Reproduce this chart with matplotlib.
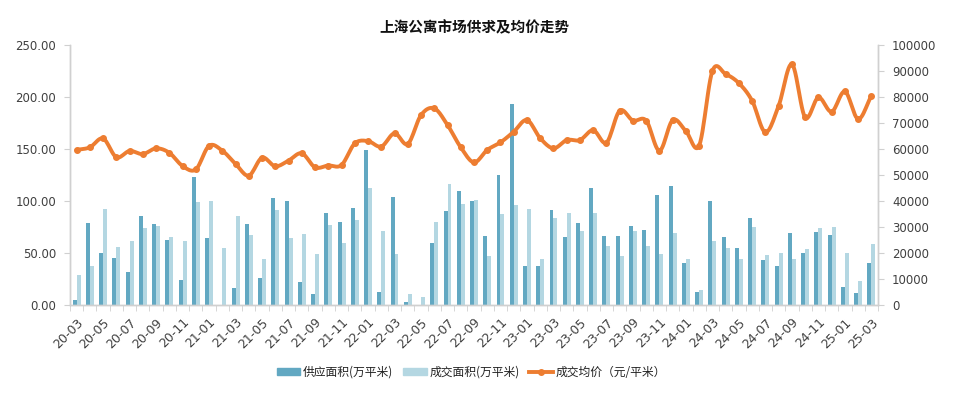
import matplotlib
matplotlib.use("Agg")
import matplotlib.pyplot as plt
import numpy as np
from matplotlib.patches import Patch
from matplotlib.lines import Line2D

plt.rcParams['font.family'] = ['Noto Sans CJK SC', 'DejaVu Sans']

# months 2020-03 .. 2025-03
months = []
for y in range(20, 26):
    for m in range(1, 13):
        if (y == 20 and m < 3) or (y == 25 and m > 3):
            continue
        months.append(f"{y:02d}-{m:02d}")

# supply area (10k m2)
supply = [5, 79, 50, 44.6, 31, 85, 78, 62.6, 24, 123,
          64, 0, 15.7, 78, 26, 103, 100, 21.5, 10, 88.6,
          80, 93, 149, 12.5, 104, 3, 0, 59, 90.5, 109,
          100, 66, 124.5, 193.5, 37, 37, 91, 65, 79, 112,
          66, 66, 76, 71.6, 106, 114, 40, 12.5, 100, 65,
          54.5, 83, 43, 37, 68.7, 50, 69.6, 66.8, 17.3, 11,
          40]
# transaction area (10k m2)
deal = [29, 37, 92, 56, 61, 74, 76, 65, 61, 99,
        100, 55, 85, 67, 44, 91, 64, 68, 49, 77,
        59, 82, 112, 70.6, 49, 10, 7, 80, 116, 97,
        101, 47, 87, 96, 92, 44, 83, 88, 70.6, 88,
        56.5, 47, 70.6, 56.5, 49, 68.7, 44, 14.4, 61, 54.5,
        44, 75, 47.8, 50, 44, 54, 73.5, 74.5, 50, 23,
        58]
# average price (yuan/m2)
price = [59600, 60600, 64000, 56800, 59200, 58000, 60200, 58500, 53400, 52100,
         61200, 59300, 54200, 49700, 56600, 53300, 55500, 58300, 52900, 53600,
         53800, 62100, 63000, 60900, 66000, 61900, 73000, 75600, 69200, 60600,
         54800, 59600, 62500, 66600, 71100, 64100, 60200, 63400, 63400, 67200,
         62400, 74700, 70900, 70900, 59300, 71100, 66800, 61300, 90000, 88800,
         85300, 78500, 66400, 76600, 92600, 72100, 79800, 74300, 82100, 71500,
         80400]


def catmull_rom(x, y, n=12):
    x = np.asarray(x, float)
    y = np.asarray(y, float)
    px = np.concatenate([[2 * x[0] - x[1]], x, [2 * x[-1] - x[-2]]])
    py = np.concatenate([[2 * y[0] - y[1]], y, [2 * y[-1] - y[-2]]])
    xs, ys = [], []
    t = np.linspace(0, 1, n, endpoint=False)
    for i in range(1, len(px) - 2):
        for arr, out in ((px, xs), (py, ys)):
            p0, p1, p2, p3 = arr[i - 1], arr[i], arr[i + 1], arr[i + 2]
            out.extend(0.5 * (2 * p1 + (-p0 + p2) * t
                              + (2 * p0 - 5 * p1 + 4 * p2 - p3) * t ** 2
                              + (-p0 + 3 * p1 - 3 * p2 + p3) * t ** 3))
    xs.append(x[-1])
    ys.append(y[-1])
    return np.array(xs), np.array(ys)


c_supply = '#62A8C2'
c_deal = '#B4D7E2'
c_price = '#ED7D31'
c_axis = '#D0D0D0'
c_text = '#404040'

fig = plt.figure(figsize=(9.6, 3.95), dpi=100)
ax = fig.add_axes([70 / 960, 1 - 304.7 / 395, 808 / 960, 259.7 / 395])
ax2 = ax.twinx()

x = np.arange(len(months))
w = 0.3
ax.bar(x - w / 2, supply, w, color=c_supply, zorder=2)
ax.bar(x + w / 2, deal, w, color=c_deal, zorder=2)

sx, sy = catmull_rom(x, price)
ax2.plot(sx, sy, color=c_price, linewidth=2.8, solid_capstyle='round', zorder=3)
ax2.plot(x, price, 'o', color=c_price, markersize=4, zorder=4)

ax.set_xlim(-0.5, len(months) - 0.5)
ax.set_ylim(0, 250)
ax2.set_ylim(0, 100000)
ax.set_yticks(np.arange(0, 251, 50))
ax.set_yticklabels([f"{v:.2f}" for v in np.arange(0, 251, 50)])
ax2.set_yticks(np.arange(0, 100001, 10000))
ax2.set_yticklabels([f"{v}" for v in range(0, 100001, 10000)])

ax.set_xticks(x[::2])
ax.set_xticklabels(months[::2], rotation=45, ha='right', va='top',
                   rotation_mode='anchor', fontsize=9, color=c_text,
                   family='DejaVu Sans')
ax.set_xticks(np.arange(-0.5, len(months), 1), minor=True)
ax.tick_params(axis='x', which='major', length=0, pad=8)
ax.tick_params(axis='x', which='minor', length=4, color=c_axis)
ax.tick_params(axis='y', labelsize=8.5, labelcolor=c_text, length=4, color=c_axis, pad=6)
ax2.tick_params(axis='y', labelsize=8.5, labelcolor=c_text, length=4, color=c_axis, pad=6)
for lab in ax.get_yticklabels() + ax2.get_yticklabels():
    lab.set_family('DejaVu Sans')

for a in (ax, ax2):
    a.spines['top'].set_visible(False)
    for s in ('left', 'right', 'bottom'):
        a.spines[s].set_color(c_axis)
        a.spines[s].set_linewidth(1.0)

fig.text(0.494, 1 - 27 / 395, '上海公寓市场供求及均价走势', ha='center', va='center',
         fontsize=10.5, fontweight='bold', color='#111111')

handles = [Patch(color=c_supply), Patch(color=c_deal),
           Line2D([0], [0], color=c_price, linewidth=2.8, marker='o', markersize=4)]
labels = ['供应面积(万平米)', '成交面积(万平米)', '成交均价（元/平米）']
fig.legend(handles, labels, loc='center', bbox_to_anchor=(0.491, 1 - 372 / 395),
           ncol=3, frameon=False, fontsize=8.5, handlelength=2.0, handleheight=0.5,
           columnspacing=0.8, handletextpad=0.25, labelcolor='#222222')

fig.savefig('out.png', dpi=100)
